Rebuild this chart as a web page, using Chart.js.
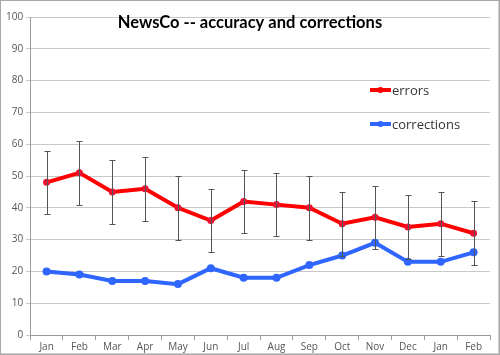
<!DOCTYPE html>
<html><head><meta charset="utf-8">
<script src="https://cdn.jsdelivr.net/npm/chart.js@4"></script>
<style>
html,body{margin:0;padding:0;background:#fff;}
#wrap{position:relative;width:500px;height:355px;box-sizing:border-box;border:1px solid #a8a8a8;box-shadow:inset -1px -1px 0 #d0d0d0;}
canvas{display:block;}
</style></head>
<body><div id="wrap"><canvas id="c" width="498" height="353"></canvas></div>
<script>
const chartTitle = "NewsCo -- accuracy and corrections";
const months = ["Jan","Feb","Mar","Apr","May","Jun","Jul","Aug","Sep","Oct","Nov","Dec","Jan","Feb"];
const errors = [48,51,45,46,40,36,42,41,40,35,37,34,35,32];
const errorMargin = [10,10,10,10,10,10,10,10,10,10,10,10,10,10];
const corrections = [20,19,17,17,16,21,18,18,22,25,29,23,23,26];
const yTicks = [0,10,20,30,40,50,60,70,80,90,100];

const overlay = {
  id:'overlay',
  afterDatasetsDraw(chart){
    const ctx = chart.ctx, x = chart.scales.x, y = chart.scales.y;
    ctx.save();
    ctx.strokeStyle = '#555';
    ctx.lineWidth = 1;
    errors.forEach((v,i)=>{
      const px = Math.round(x.getPixelForValue(i))+0.5;
      const top = Math.round(y.getPixelForValue(v+errorMargin[i]))+0.5;
      const bot = Math.round(y.getPixelForValue(v-errorMargin[i]))+0.5;
      ctx.beginPath();
      ctx.moveTo(px,top);ctx.lineTo(px,bot);
      ctx.moveTo(px-3,top);ctx.lineTo(px+3,top);
      ctx.moveTo(px-3,bot);ctx.lineTo(px+3,bot);
      ctx.stroke();
    });
    ctx.restore();
    ctx.save();
    ctx.fillStyle = '#000';
    ctx.font = 'bold 16.5px Lato';
    ctx.textAlign = 'center';
    ctx.textBaseline = 'middle';
    ctx.fillText(chartTitle, 249, 22);
    ctx.restore();
    const items = chart.data.datasets.map(d=>({label:d.label,color:d.borderColor}));
    ctx.save();
    items.forEach((it,k)=>{
      const ly = 89 + k*34;
      ctx.strokeStyle = it.color; ctx.lineWidth = 4;
      ctx.beginPath(); ctx.moveTo(369,ly); ctx.lineTo(390,ly); ctx.stroke();
      ctx.fillStyle = it.color;
      ctx.beginPath(); ctx.arc(379.5,ly,3,0,Math.PI*2); ctx.fill();
      ctx.fillStyle = '#333'; ctx.font = '13px "Open Sans"';
      ctx.textBaseline = 'middle'; ctx.textAlign='left';
      ctx.fillText(it.label, 391, ly+1);
    });
    ctx.restore();
  }
};

new Chart(document.getElementById('c'), {
  type:'line',
  data:{
    labels: months,
    datasets:[
      {label:'errors', data: errors, borderColor:'#ff0000', backgroundColor:'#ff0000',
       borderWidth:4, pointRadius:3.5, pointBackgroundColor:'#ee1030', pointBorderWidth:0, tension:0},
      {label:'corrections', data: corrections, borderColor:'#2f66ff', backgroundColor:'#2f66ff',
       borderWidth:4, pointRadius:4, pointBorderWidth:0, tension:0}
    ]
  },
  options:{
    responsive:false, animation:false,
    layout:{padding:{left:2,right:9,top:16,bottom:0}},
    plugins:{legend:{display:false}, title:{display:false}, tooltip:{enabled:false}},
    scales:{
      x:{offset:true,
         grid:{offset:true, drawOnChartArea:false, tickLength:5, color:'#9a9a9a'},
         border:{color:'#9a9a9a'},
         ticks:{color:'#555', font:{size:10, family:'"Open Sans"'}, padding:1, maxRotation:0, autoSkip:false}},
      y:{min:0,max:100,
         afterBuildTicks(s){ s.ticks = yTicks.map(v=>({value:v})); },
         grid:{color:'#c8c8c8', tickLength:4},
         border:{color:'#9a9a9a'},
         ticks:{color:'#555', font:{size:10, family:'"Open Sans"'}, padding:3}}
    }
  },
  plugins:[overlay]
});
</script></body></html>
